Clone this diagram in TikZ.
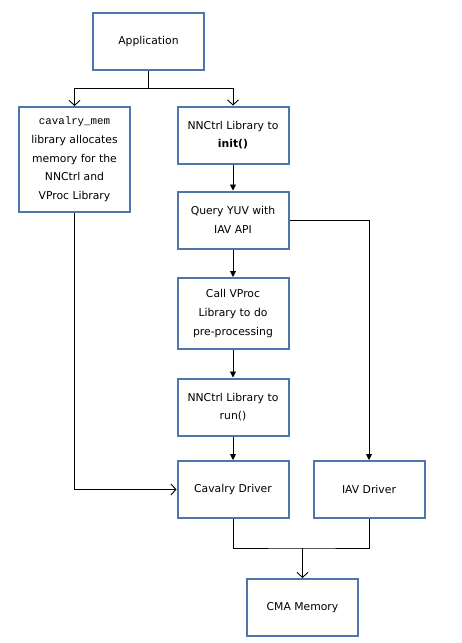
\documentclass[tikz,border=0pt]{standalone}
\usepackage{fontspec}
\setmainfont{DejaVu Sans}
\newfontfamily\codefont{Liberation Mono}
\usetikzlibrary{arrows.meta}
\definecolor{boxblue}{RGB}{79,118,168}

\begin{document}
\begin{tikzpicture}[x=1pt,y=-1pt,
    box/.style={draw=boxblue,line width=2pt,minimum width=111pt,minimum height=57pt,
        inner sep=0pt,align=center,font=\fontsize{10.8}{18.7}\selectfont},
    conn/.style={line width=0.9pt},
    fillarrow/.style={conn,-{Triangle[length=6pt,width=6pt]}},
    openarrow/.style={conn,-{Straight Barb[length=5pt,width=11pt]}}]
    % Rahmen
    \useasboundingbox (0,0) rectangle (462,643);

    % Kaesten
    \node[box] (app) at (148.5,41.5) {Application};
    \node[box,minimum height=105pt] (mem) at (74.5,159.5)
        {{\codefont cavalry\_mem}\\library allocates\\memory for the\\NNCtrl and\\VProc Library};
    \node[box] (init) at (233,135) {NNCtrl Library to\\\textbf{init()}};
    \node[box] (query) at (233,220) {Query YUV with\\IAV API};
    \node[box,minimum height=71pt] (vproc) at (233,313.5) {Call VProc\\Library to do\\pre-processing};
    \node[box] (run) at (233,407) {NNCtrl Library to\\run()};
    \node[box] (cav) at (233,489.5) {Cavalry Driver};
    \node[box] (iav) at (369,489.5) {IAV Driver};
    \node[box] (cma) at (302.5,607.5) {CMA Memory};

    % Verzweigung unter Application
    \coordinate (fork) at (148.5,88);
    \draw[conn] (app.south) -- (fork);
    \draw[openarrow] (fork) -| (mem.north);
    \draw[openarrow] (fork) -| (init.north);

    % mittlere Spalte
    \draw[fillarrow] (init) -- (query);
    \draw[fillarrow] (query) -- (vproc);
    \draw[fillarrow] (vproc) -- (run);
    \draw[fillarrow] (run) -- (cav);
    \draw[fillarrow] (query.east) -| (iav.north);
    \draw[openarrow] (mem.south) |- (cav.west);

    % Zusammenfuehrung zum CMA
    \coordinate (merge) at (302.5,548);
    \draw[conn] (cav.south) |- (merge) -| (iav.south);
    \draw[openarrow] (merge) -- (cma.north);
\end{tikzpicture}
\end{document}
